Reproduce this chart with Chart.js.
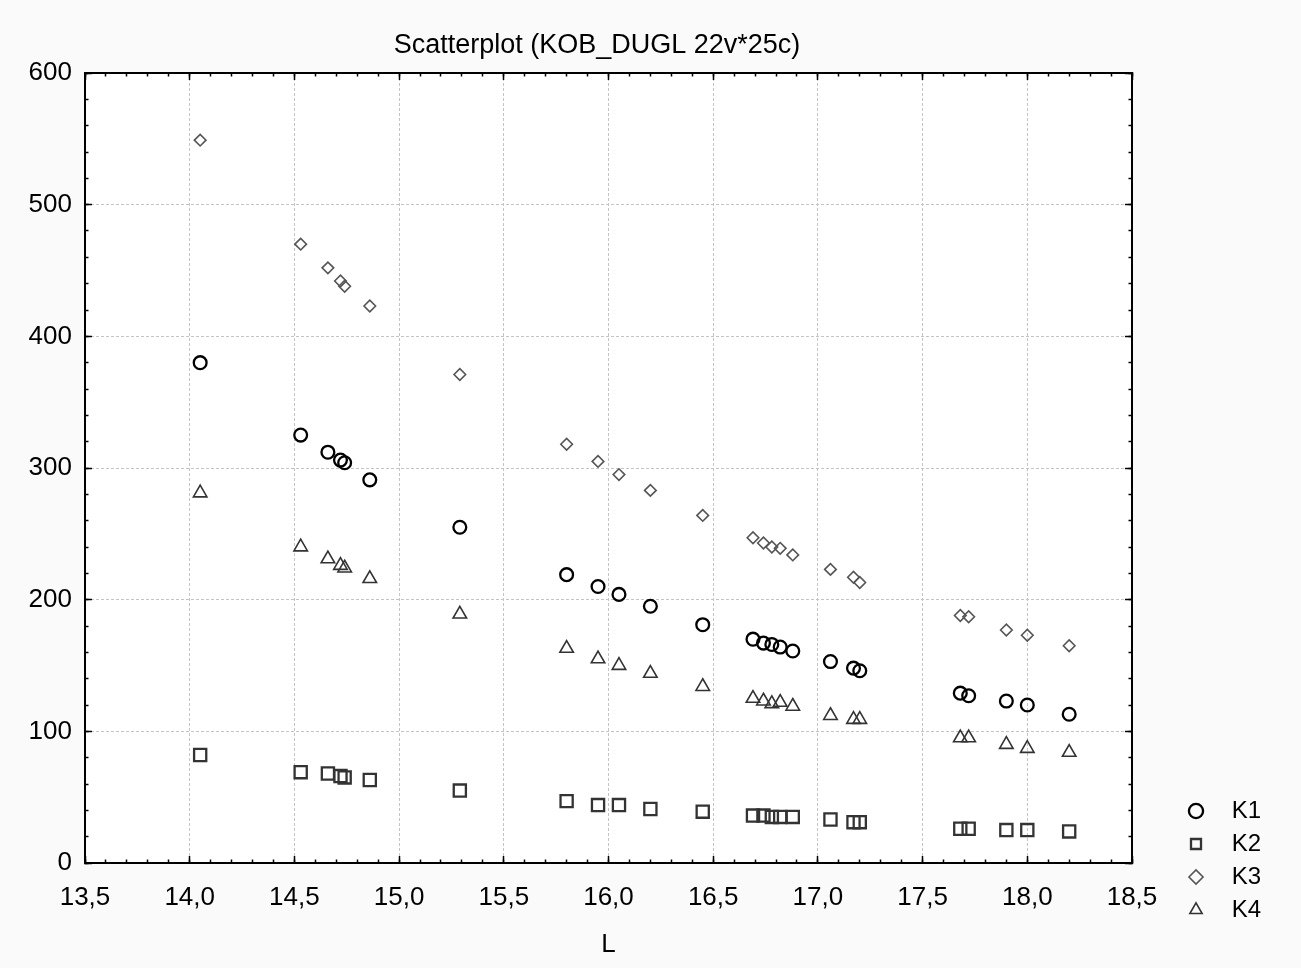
<!DOCTYPE html>
<html>
<head>
<meta charset="utf-8">
<script src="https://cdn.jsdelivr.net/npm/chart.js@4.4.0/dist/chart.umd.min.js"></script>
<style>
html,body{margin:0;padding:0;background:#fafafa;}
#wrap{width:1301px;height:968px;position:relative;}
</style>
</head>
<body>
<div id="wrap"><canvas id="c"></canvas></div>
<script>
// ---- data ----
const L  = [14.05, 14.53, 14.66, 14.72, 14.74, 14.86, 15.29, 15.80, 15.95, 16.05, 16.20, 16.45, 16.69, 16.74, 16.78, 16.82, 16.88, 17.06, 17.17, 17.20, 17.68, 17.72, 17.90, 18.00, 18.20];
const K1 = [380, 325, 312, 306, 304, 291, 255, 219, 210, 204, 195, 181, 170, 167, 166, 164, 161, 153, 148, 146, 129, 127, 123, 120, 113];
const K2 = [82, 69, 68, 66, 65, 63, 55, 47, 44, 44, 41, 39, 36, 36, 35, 35, 35, 33, 31, 31, 26, 26, 25, 25, 24];
const K3 = [549, 470, 452, 442, 438, 423, 371, 318, 305, 295, 283, 264, 247, 243, 240, 239, 234, 223, 217, 213, 188, 187, 177, 173, 165];
const K4 = [281, 240, 231, 226, 224, 216, 189, 163, 155, 150, 144, 134, 125, 123, 121, 122, 119, 112, 109, 109, 95, 95, 90, 87, 84];
const seriesNames = ['K1', 'K2', 'K3', 'K4'];
const xTickLabels = ['13,5', '14,0', '14,5', '15,0', '15,5', '16,0', '16,5', '17,0', '17,5', '18,0', '18,5'];
const yTickLabels = ['0', '100', '200', '300', '400', '500', '600'];
const chartTitle = 'Scatterplot (KOB_DUGL 22v*25c)';
const xAxisTitle = 'L';

const FONT = "'Liberation Sans', Arial, Helvetica, sans-serif";
Chart.defaults.font.family = FONT;
Chart.defaults.color = '#000';

function pts(ys) { return L.map((x, i) => ({x: x, y: ys[i]})); }

const bgPlugin = {
  id: 'bg',
  beforeDraw(chart) {
    const {ctx, chartArea: a} = chart;
    ctx.save();
    ctx.fillStyle = '#fafafa';
    ctx.fillRect(0, 0, chart.width, chart.height);
    ctx.fillStyle = '#ffffff';
    ctx.fillRect(a.left, a.top, a.right - a.left, a.bottom - a.top);
    ctx.restore();
  }
};
const placeBlocks = {
  id: 'placeBlocks',
  afterLayout(chart) {
    const lg = chart.legend;
    if (lg) {
      lg.left = 1182; lg.right = 1261; lg.top = 790; lg.bottom = 968;
      lg.width = lg.right - lg.left; lg.height = lg.bottom - lg.top;
    }
    const tb = chart.titleBlock;
    if (tb) {
      tb.left = 0; tb.right = 1194; tb.width = 1194;
    }
  }
};

function tickAxis(axis, pos, min, max, step, len, weight, withBorder, size) {
  return {
    type: 'linear', axis: axis, position: pos, min: min, max: max, weight: weight,
    ticks: {display: false, stepSize: step},
    grid: {drawOnChartArea: false, drawTicks: true, tickLength: -len, tickColor: '#000', tickWidth: 1.5},
    border: {display: withBorder, color: '#000', width: 2},
    afterFit(s) { if (s.isHorizontal()) s.height = size; else s.width = size; }
  };
}

const styles = [
  {pointStyle: 'circle',   pointRadius: 6.4, borderWidth: 2.3, borderColor: '#000000'},
  {pointStyle: 'rect',     pointRadius: 8.6, borderWidth: 2.3, borderColor: '#333333'},
  {pointStyle: 'rectRot',  pointRadius: 5.8, borderWidth: 1.6, borderColor: '#555555'},
  {pointStyle: 'triangle', pointRadius: 7.8, borderWidth: 1.6, borderColor: '#333333'}
];
const seriesData = [K1, K2, K3, K4];

new Chart(document.getElementById('c'), {
  type: 'scatter',
  data: {
    datasets: seriesData.map((ys, i) => Object.assign({
      label: seriesNames[i],
      data: pts(ys),
      backgroundColor: 'rgba(0,0,0,0)',
      pointBackgroundColor: 'rgba(0,0,0,0)',
      pointBorderColor: styles[i].borderColor,
      pointBorderWidth: styles[i].borderWidth,
      pointHoverRadius: styles[i].pointRadius
    }, styles[i]))
  },
  options: {
    responsive: true,
    maintainAspectRatio: false,
    animation: false,
    layout: {padding: 0},
    plugins: {
      tooltip: {enabled: false},
      title: {
        display: true, text: chartTitle, color: '#000',
        font: {size: 27, weight: 'normal', family: FONT},
        padding: {top: 29, bottom: 11.6}
      },
      legend: {
        display: true, position: 'chartArea', align: 'start',
        labels: {
          usePointStyle: true, boxWidth: 10, boxHeight: 10, padding: 9,
          textAlign: 'right', color: '#000',
          font: {size: 24, family: FONT}
        }
      }
    },
    scales: {
      x: {
        type: 'linear', position: 'bottom', min: 13.5, max: 18.5, weight: 0,
        ticks: {stepSize: 0.5, padding: 26, font: {size: 26}, color: '#000',
                callback: (v, i) => xTickLabels[i]},
        grid: {color: '#c4c4c4', lineWidth: 1, tickLength: -7, tickColor: '#000', tickWidth: 1.5},
        border: {display: true, color: '#000', width: 2, dash: [3, 2]},
        title: {display: true, text: xAxisTitle, color: '#000', font: {size: 26}, padding: {top: 0, bottom: 8}},
        afterFit(s) { s.height = 105; }
      },
      y: {
        type: 'linear', position: 'left', min: 0, max: 600, weight: 0,
        ticks: {stepSize: 100, padding: 20, font: {size: 26}, color: '#000',
                callback: (v, i) => yTickLabels[i]},
        grid: {color: '#c4c4c4', lineWidth: 1, tickLength: -7, tickColor: '#000', tickWidth: 1.5},
        border: {display: true, color: '#000', width: 2, dash: [3, 2]},
        afterFit(s) { s.width = 85; }
      },
      xMinor: tickAxis('x', 'bottom', 13.5, 18.5, 0.1, 3.5, -1, false, 0),
      yMinor: tickAxis('y', 'left', 0, 600, 20, 3.5, -1, false, 0),
      xTop: tickAxis('x', 'top', 13.5, 18.5, 0.5, 7, 0, true, 0),
      xTopMinor: tickAxis('x', 'top', 13.5, 18.5, 0.1, 3.5, -1, false, 0),
      yRight: tickAxis('y', 'right', 0, 600, 100, 7, 0, true, 169),
      yRightMinor: tickAxis('y', 'right', 0, 600, 20, 3.5, -1, false, 0)
    }
  },
  plugins: [bgPlugin, placeBlocks]
});
</script>
</body>
</html>
